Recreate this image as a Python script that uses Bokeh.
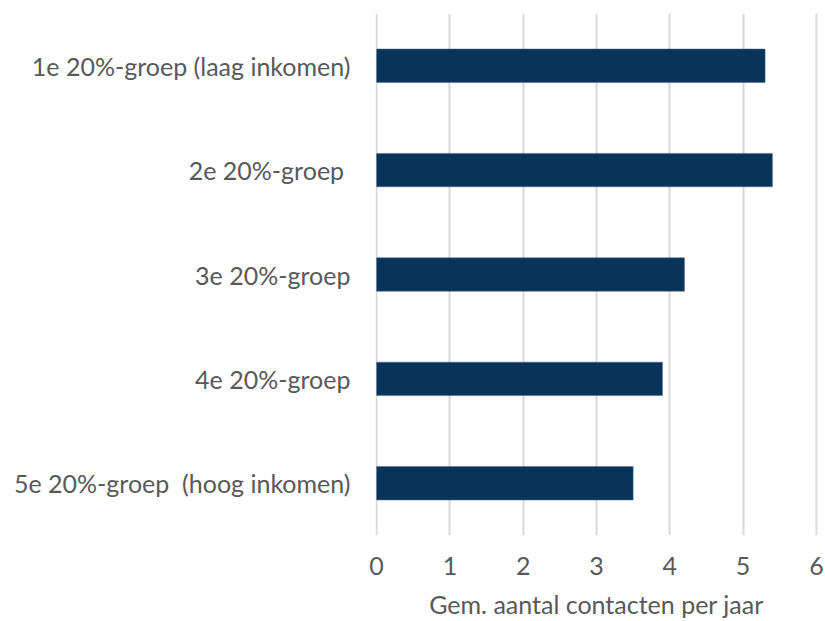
from bokeh.plotting import figure
from bokeh.models import FactorRange, Range1d, FixedTicker
from bokeh.embed import file_html
from bokeh.resources import INLINE

categories = [
    "1e 20%-groep (laag inkomen)",
    "2e 20%-groep\u00a0",
    "3e 20%-groep",
    "4e 20%-groep",
    "5e 20%-groep \u00a0(hoog inkomen)",
]
values = [5.3, 5.4, 4.2, 3.9, 3.5]
x_ticks = [0, 1, 2, 3, 4, 5, 6]
x_title = "Gem. aantal contacten per jaar"

FONT = "Lato"
TXT = "#595959"

p = figure(
    y_range=FactorRange(factors=categories[::-1], range_padding=0),
    x_range=Range1d(-0.015, 6.015),
    width=825, height=621,
    output_backend="svg", toolbar_location=None,
    min_border_left=375, min_border_right=8, min_border_top=13, min_border_bottom=86,
)
p.hbar(y=categories, right=values, left=0, height=0.32, color="#08335A", line_color="#4A6A8A", line_width=0.5)

p.outline_line_color = None
p.background_fill_color = "white"
p.border_fill_color = "white"

p.ygrid.grid_line_color = None
p.xgrid.grid_line_color = "#D9D9D9"
p.xgrid.grid_line_width = 2
p.xgrid.ticker = FixedTicker(ticks=x_ticks)
p.xaxis.ticker = FixedTicker(ticks=x_ticks)

for ax in (p.xaxis, p.yaxis):
    ax.axis_line_color = None
    ax.major_tick_line_color = None
    ax.minor_tick_line_color = None
    ax.major_tick_out = 0
    ax.major_tick_in = 0
    ax.major_label_text_font = FONT
    ax.major_label_text_font_size = "25px"
    ax.major_label_text_color = TXT

p.yaxis.major_label_standoff = 25
p.xaxis.major_label_standoff = 21
p.xaxis.axis_label = x_title
p.xaxis.axis_label_text_font = FONT
p.xaxis.axis_label_text_font_size = "25px"
p.xaxis.axis_label_text_font_style = "normal"
p.xaxis.axis_label_text_color = TXT
p.xaxis.axis_label_standoff = 11

open("out.html", "w").write(file_html(p, INLINE))
